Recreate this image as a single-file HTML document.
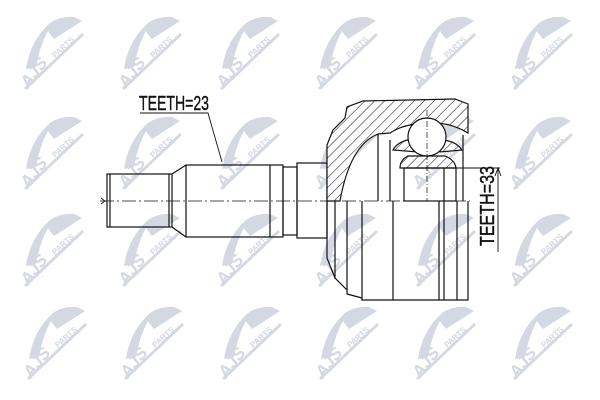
<!DOCTYPE html>
<html><head><style>
html,body{margin:0;padding:0;background:#fff;}
svg{display:block}
</style></head><body>
<svg width="600" height="400" viewBox="0 0 600 400" xmlns="http://www.w3.org/2000/svg">
<defs>
<pattern id="h" patternUnits="userSpaceOnUse" width="7" height="7" patternTransform="rotate(45)">
<rect width="7" height="7" fill="#fff"/><line x1="0" y1="0" x2="0" y2="7" stroke="#222" stroke-width="1.1"/>
</pattern>
<g id="w" fill="#d4d8e2">
<path d="M-26,16 Q-22,-12 -2,-30 Q8,-37 22,-36 L30,-32 L2,-14 Q-3,-20 -4,-22 Q-12,-8 -16,14 Z"/>
<text x="0" y="0" font-family="Liberation Sans,sans-serif" font-weight="bold" font-style="italic" font-size="17" transform="translate(-24,36) rotate(-52)">AJS</text>
<text x="0" y="0" font-family="Liberation Sans,sans-serif" font-weight="bold" font-size="8" transform="translate(3,5) rotate(-42)">PARTS</text>
<path d="M-28,35 L30,-20 L32,-18 L-26,37 Z"/>
</g>
</defs>
<g>
<use href="#w" x="52" y="53"/><use href="#w" x="150" y="53"/><use href="#w" x="248" y="53"/><use href="#w" x="346" y="53"/><use href="#w" x="444" y="53"/><use href="#w" x="541" y="53"/>
<use href="#w" x="52" y="153"/><use href="#w" x="150" y="153"/><use href="#w" x="248" y="153"/><use href="#w" x="346" y="153"/><use href="#w" x="444" y="153"/><use href="#w" x="541" y="153"/>
<use href="#w" x="52" y="250"/><use href="#w" x="150" y="250"/><use href="#w" x="248" y="250"/><use href="#w" x="346" y="250"/><use href="#w" x="444" y="250"/><use href="#w" x="541" y="250"/>
<use href="#w" x="55" y="343"/><use href="#w" x="152" y="343"/><use href="#w" x="250" y="343"/><use href="#w" x="347" y="343"/><use href="#w" x="444" y="343"/><use href="#w" x="541" y="343"/>
</g>
<g fill="none" stroke="#111" stroke-width="1.2">
<rect x="107" y="174" width="65" height="53"/>
<line x1="110" y1="174" x2="110" y2="227"/><line x1="169" y1="174" x2="169" y2="227"/>
<path d="M172,174 L186,165 M172,227 L186,237"/>
<rect x="186" y="165" width="97" height="72"/>
<line x1="270" y1="165" x2="270" y2="237"/>
<rect x="283" y="167" width="14" height="68"/>
<rect x="297" y="163" width="30" height="75"/>
<path d="M327,201 L327,258 L335,278 L347,290 L347,294 L362,298 L362,300 L468,300 L468,201"/>
<line x1="335" y1="201" x2="335" y2="278"/>
<line x1="347" y1="201" x2="347" y2="290"/>
<line x1="362" y1="201" x2="362" y2="298"/>
<line x1="393" y1="201" x2="393" y2="300"/>
<line x1="439" y1="201" x2="439" y2="300"/>
<line x1="444" y1="201" x2="444" y2="300"/>
<line x1="457" y1="201" x2="457" y2="300"/>
<path fill="url(#h)" d="M327,201 L327,145 L333,130 L345,118 L347,107 L363,101 L455,99 L468,104 L468,133 Q450,122 430,123 Q405,123 390,133 L378,134 Q350,145 340,201 Z"/>
<path fill="url(#h)" d="M393,150 Q398,140 418,138 L418,152 Z M440,140 Q455,140 462,150 L440,152 Z"/>
<path fill="url(#h)" d="M400,168 Q400,160 408,156 L445,156 Q455,160 456,168 Z"/>
<circle cx="427" cy="137" r="19" fill="#fff"/>
<line x1="378" y1="134" x2="378" y2="201"/>
<line x1="390" y1="140" x2="390" y2="201"/>
<rect x="404" y="168" width="52" height="33"/>
<line x1="444" y1="168" x2="444" y2="201"/>
<line x1="463" y1="135" x2="463" y2="201"/>
</g>
<line x1="100" y1="201" x2="470" y2="201" stroke="#111" stroke-width="0.8" stroke-dasharray="14,3,2,3"/>
<path d="M101,198 L105,201 L101,204" fill="none" stroke="#111" stroke-width="0.8"/>
<line x1="427" y1="110" x2="427" y2="201" stroke="#111" stroke-width="0.7" stroke-dasharray="6,2,1,2"/>
<text x="139" y="110" font-family="Liberation Sans,sans-serif" font-size="20" fill="#111" stroke="#111" stroke-width="0.4" textLength="70" lengthAdjust="spacingAndGlyphs">TEETH=23</text>
<path d="M140,113 L208,113 L222,162" fill="none" stroke="#111" stroke-width="0.9"/>
<line x1="404" y1="168" x2="500" y2="168" stroke="#111" stroke-width="0.9"/>
<line x1="498" y1="168" x2="498" y2="252" stroke="#111" stroke-width="0.9"/>
<path d="M495,176 L498,168 L501,176" fill="none" stroke="#111" stroke-width="0.9"/>
<text transform="translate(494,246) rotate(-90)" font-family="Liberation Sans,sans-serif" font-size="20" fill="#111" stroke="#111" stroke-width="0.4" textLength="80" lengthAdjust="spacingAndGlyphs">TEETH=33</text>
</svg>
</body></html>
